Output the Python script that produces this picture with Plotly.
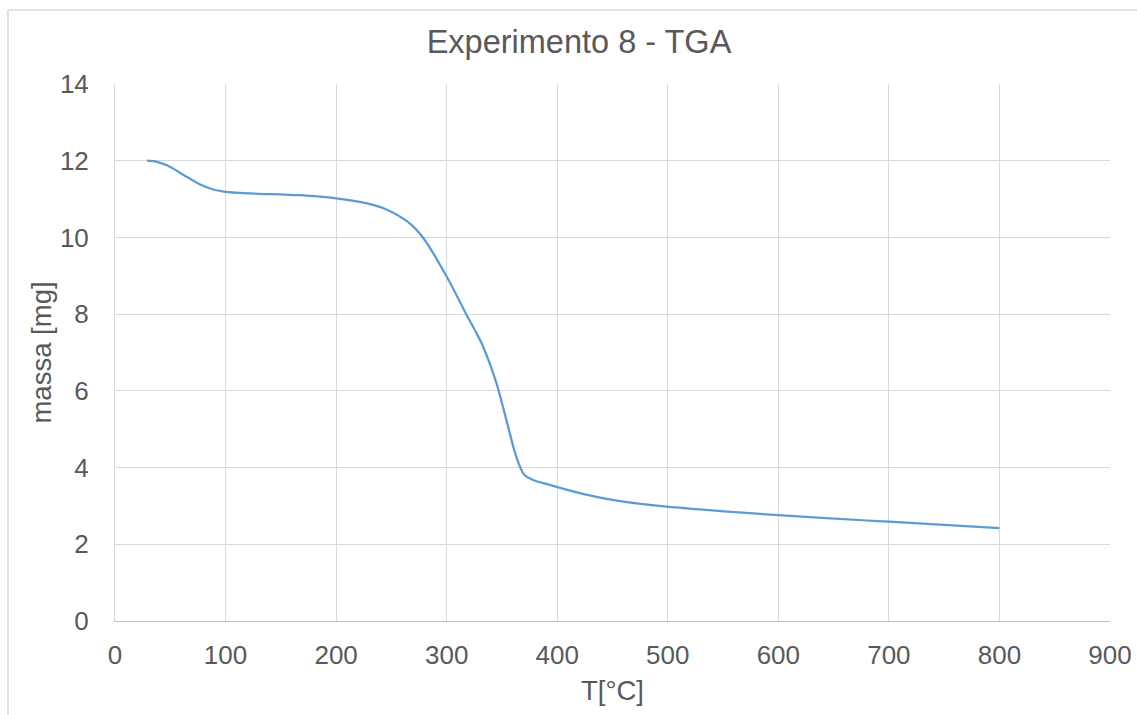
import plotly.graph_objects as go

# TGA run: sample temperature (°C) and remaining mass (mg)
temperatura = [29, 38, 47, 62, 77, 89, 100, 122, 167, 200, 228, 243, 266, 279,
               300, 318, 326, 333, 345, 354, 363, 370, 377, 393, 424, 454,
               499, 529, 574, 600, 680, 700, 800]
massa = [12.00, 11.97, 11.88, 11.63, 11.38, 11.25, 11.19, 11.15, 11.10, 11.02,
         10.89, 10.76, 10.38, 9.98, 8.98, 7.98, 7.56, 7.15, 6.20, 5.24,
         4.28, 3.82, 3.69, 3.55, 3.31, 3.14, 2.98, 2.91, 2.81, 2.76, 2.62,
         2.59, 2.42]

x_ticks = [0, 100, 200, 300, 400, 500, 600, 700, 800, 900]
y_ticks = [0, 2, 4, 6, 8, 10, 12, 14]

FONT = "Liberation Sans, Arial, sans-serif"
TEXT = "#595959"
GRID = "#d9d9d9"

fig = go.Figure()
fig.add_trace(go.Scatter(
    x=temperatura, y=massa, mode="lines",
    line=dict(color="#5B9BD5", width=2.25, shape="spline", smoothing=0.9),
    showlegend=False, hoverinfo="x+y",
))

W, H = 1137, 715
L, R, T, B = 115, 27, 84, 94
pw, ph = W - L - R, H - T - B

fig.update_layout(
    width=W, height=H,
    margin=dict(l=L, r=R, t=T, b=B, pad=0, autoexpand=False),
    paper_bgcolor="white", plot_bgcolor="white",
    font=dict(family=FONT, color=TEXT, size=26),
    title=dict(text="Experimento 8 - TGA", x=(579 - L) / pw, xref="paper",
               xanchor="center", y=1 - 42 / H, yanchor="middle",
               font=dict(size=32.5, color=TEXT, family=FONT)),
    xaxis=dict(range=[0, 900], tickvals=x_ticks, showgrid=True, gridcolor=GRID,
               gridwidth=1, zeroline=False, showline=True, linecolor="#bfbfbf",
               linewidth=1, ticks="", ticklabelstandoff=11, automargin=False,
               tickfont=dict(size=26, color=TEXT, family=FONT),
               title=dict(text="T[°C]", standoff=11,
                          font=dict(size=27.5, color=TEXT, family=FONT))),
    yaxis=dict(range=[0, 14], tickvals=y_ticks, showgrid=True, gridcolor=GRID,
               gridwidth=1, zeroline=False, showline=True, linecolor=GRID,
               linewidth=1, ticks="", ticklabelstandoff=20, automargin=False,
               tickfont=dict(size=26, color=TEXT, family=FONT),
               title=dict(text="massa [mg]", standoff=0,
                          font=dict(size=27.5, color=TEXT, family=FONT))),
)

# Outer chart-area frame (top and left edges)
fx0 = (8 - L) / pw
fy0 = 1 + (T - 10) / ph
fig.add_shape(type="line", xref="paper", yref="paper", x0=fx0, x1=(W - L) / pw,
              y0=fy0, y1=fy0, line=dict(color=GRID, width=1.5))
fig.add_shape(type="line", xref="paper", yref="paper", x0=fx0, x1=fx0,
              y0=fy0, y1=-B / ph, line=dict(color=GRID, width=1.5))

fig.write_html("out.html")
